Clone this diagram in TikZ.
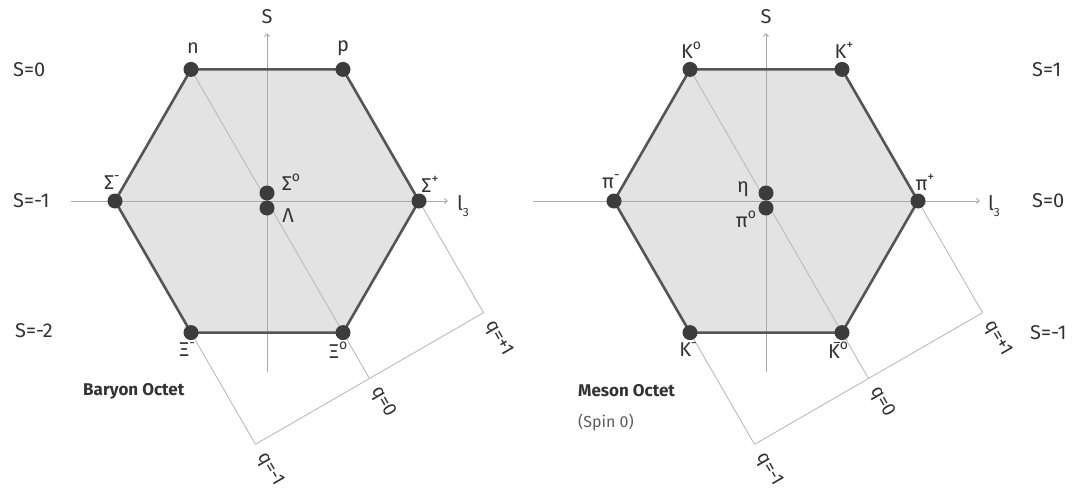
\documentclass[tikz,border=0pt]{standalone}
\usepackage{fontspec}
\setmainfont{Fira Sans}
\usetikzlibrary{arrows.meta,backgrounds}
\definecolor{hexfill}{HTML}{E3E3E3}
\definecolor{edgec}{HTML}{555555}
\definecolor{dotc}{HTML}{3C3C3C}
\definecolor{thingray}{HTML}{BBBBBB}
\definecolor{axgray}{HTML}{AAAAAA}
\definecolor{txt}{HTML}{333333}
\newcommand{\supr}[1]{\raisebox{0.45em}{\fontsize{14}{14}\selectfont #1}}
\newcommand{\Kbar}{\rlap{\hspace{0.28em}\raisebox{0.78em}{\rule{0.34em}{1pt}}}K}
\newcommand{\lthree}{l\raisebox{-0.3em}{\fontsize{12}{12}\selectfont 3}}
\begin{document}
\begin{tikzpicture}[x=1pt,y=-1pt,
  dot/.style={circle,fill=dotc,inner sep=0pt,minimum size=15pt},
  lab/.style={text=txt,font=\fontsize{20}{24}\selectfont,inner sep=0pt},
  slab/.style={lab,anchor=west},
  qlab/.style={text=txt,font=\fontsize{19}{22}\selectfont,rotate=-60,xshift=11pt,anchor=west,inner sep=0pt},
  thinline/.style={draw=thingray,line width=0.9pt},
  axisline/.style={draw=axgray,line width=0.9pt},
  axarrow/.style={axisline,-{Straight Barb[length=3pt,width=5pt]}},
  hexedges/.style={draw=edgec,line width=2.6pt,line join=round},
  ttl/.style={text=txt,font=\bfseries\fontsize{17}{20}\selectfont,anchor=west,inner sep=0pt}]
\useasboundingbox (0,0) rectangle (1083,495);

% ---------------- Baryon octet ----------------
\begin{scope}[shift={(267,201)}]
  \node[dot] (Ln)  at (-76,-131.6) {};
  \node[dot] (Lp)  at (76,-131.6) {};
  \node[dot] (LSm) at (-152,0) {};
  \node[dot] (LSp) at (152,0) {};
  \node[dot] (LXm) at (-76,131.6) {};
  \node[dot] (LX0) at (76,131.6) {};
  \node[dot] (LS0) at (0,-8) {};
  \node[dot] (LL)  at (0,7) {};
  \coordinate (LaxT) at (0,-168);
  \coordinate (LaxB) at (0,171);
  \coordinate (LaxL) at (-196,0);
  \coordinate (LaxR) at (181,0);
  \coordinate (Lqm) at (-11.5,243.3);
  \coordinate (Lq0) at (102.5,177.5);
  \coordinate (Lqp) at (216.5,111.7);
  \begin{scope}[on background layer]
    \fill[hexfill] (Ln.center) -- (Lp.center) -- (LSp.center) -- (LX0.center) -- (LXm.center) -- (LSm.center) -- cycle;
    \draw[axarrow] (LaxB) -- (LaxT);
    \draw[axarrow] (LaxL) -- (LaxR);
    \draw[thinline] (Ln.center) -- (Lq0);
    \draw[thinline] (LXm.center) -- (Lqm);
    \draw[thinline] (LSp.center) -- (Lqp);
    \draw[thinline] (Lqm) -- (Lqp);
    \draw[hexedges] (Ln.center) -- (Lp.center) -- (LSp.center) -- (LX0.center) -- (LXm.center) -- (LSm.center) -- cycle;
  \end{scope}
  \node[qlab] (Lqml) at (Lqm) {q=-1};
  \node[qlab] (Lq0l) at (Lq0) {q=0};
  \node[qlab] (Lqpl) at (Lqp) {q=+1};
\end{scope}
\node[lab] (LSlab) at (267,17) {S};
\node[lab] (Llab3) at (463,206) {\lthree};
\node[lab] (nlab) at (193,48) {n};
\node[lab] (plab) at (343,48) {p};
\node[lab] (Smlab) at (112,183) {Σ\supr{-}};
\node[lab] (S0lab) at (291,182) {Σ\supr{o}};
\node[lab] (Llab) at (288,216) {Λ};
\node[lab] (Splab) at (430,184) {Σ\supr{+}};
\node[lab] (Xmlab) at (187,350) {Ξ\supr{-}};
\node[lab] (X0lab) at (338,350) {Ξ\supr{o}};
\node[ttl] (Lttl) at (83,391) {Baryon Octet};
\node[slab] (LS0t) at (13,70) {S=0};
\node[slab] (LSm1t) at (13,201) {S=-1};
\node[slab] (LSm2t) at (15,331) {S=-2};

% ---------------- Meson octet ----------------
\begin{scope}[shift={(766,201)}]
  \node[dot] (RK0)  at (-76,-131.6) {};
  \node[dot] (RKp)  at (76,-131.6) {};
  \node[dot] (Rpim) at (-152,0) {};
  \node[dot] (Rpip) at (152,0) {};
  \node[dot] (RKm)  at (-76,131.6) {};
  \node[dot] (RKb)  at (76,131.6) {};
  \node[dot] (Reta) at (0,-8) {};
  \node[dot] (Rpi0) at (0,7) {};
  \coordinate (RaxT) at (0,-168);
  \coordinate (RaxB) at (0,171);
  \coordinate (RaxL) at (-233,0);
  \coordinate (RaxR) at (214,0);
  \coordinate (Rqm) at (-11.5,243.3);
  \coordinate (Rq0) at (102.5,177.5);
  \coordinate (Rqp) at (216.5,111.7);
  \begin{scope}[on background layer]
    \fill[hexfill] (RK0.center) -- (RKp.center) -- (Rpip.center) -- (RKb.center) -- (RKm.center) -- (Rpim.center) -- cycle;
    \draw[axarrow] (RaxB) -- (RaxT);
    \draw[axarrow] (RaxL) -- (RaxR);
    \draw[thinline] (RK0.center) -- (Rq0);
    \draw[thinline] (RKm.center) -- (Rqm);
    \draw[thinline] (Rpip.center) -- (Rqp);
    \draw[thinline] (Rqm) -- (Rqp);
    \draw[hexedges] (RK0.center) -- (RKp.center) -- (Rpip.center) -- (RKb.center) -- (RKm.center) -- (Rpim.center) -- cycle;
  \end{scope}
  \node[qlab] (Rqml) at (Rqm) {q=-1};
  \node[qlab] (Rq0l) at (Rq0) {q=0};
  \node[qlab] (Rqpl) at (Rqp) {q=+1};
\end{scope}
\node[lab] (RSlab) at (766,17) {S};
\node[lab] (Rlab3) at (994,206) {\lthree};
\node[lab] (K0lab) at (691,50) {K\supr{o}};
\node[lab] (Kplab) at (844,50) {K\supr{+}};
\node[lab] (pimlab) at (611,182) {π\supr{-}};
\node[lab] (piplab) at (925,182) {π\supr{+}};
\node[lab] (etalab) at (743,189) {η};
\node[lab] (pi0lab) at (746,219) {π\supr{o}};
\node[lab] (Kmlab) at (688,350) {K\supr{-}};
\node[lab] (Kblab) at (838,350) {\Kbar\supr{o}};
\node[ttl] (Rttl) at (578,391) {Meson Octet};
\node[text=txt!80,font=\fontsize{16}{19}\selectfont,anchor=west,inner sep=0pt] (spin) at (578,422) {(Spin 0)};
\node[slab] (RS1t) at (1032,70) {S=1};
\node[slab] (RS0t) at (1032,201) {S=0};
\node[slab] (RSm1t) at (1030,333) {S=-1};
\end{tikzpicture}
\end{document}
